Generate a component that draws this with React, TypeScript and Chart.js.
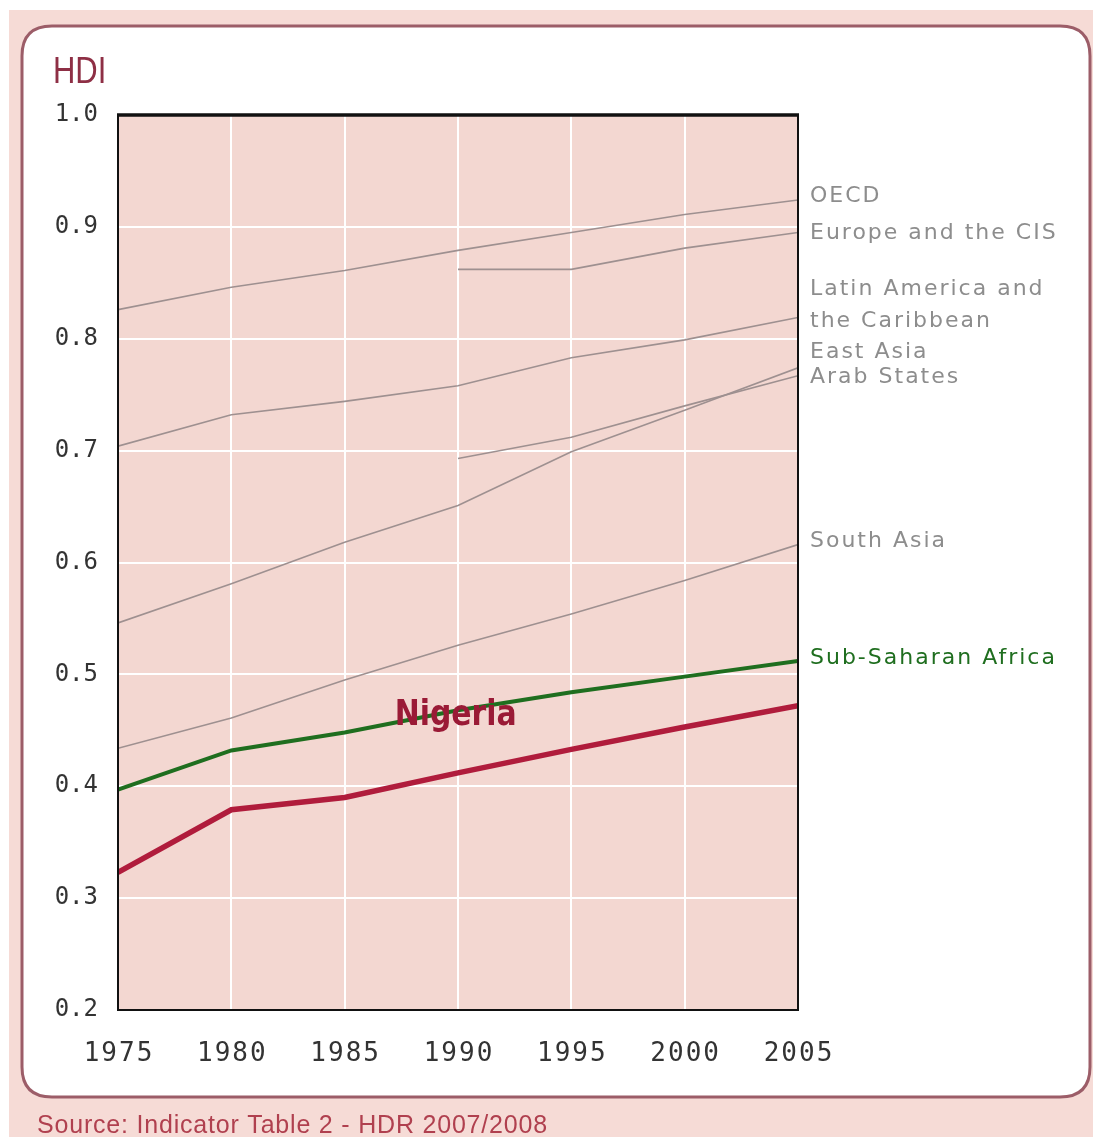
import React, { useEffect, useRef } from "react";
import { Chart, registerables } from "chart.js";

Chart.register(...registerables);

const years = [1975, 1980, 1985, 1990, 1995, 2000, 2005];
const oecd = [0.826, 0.846, 0.861, 0.879, 0.895, 0.911, 0.924];
const europeCIS = [null, null, null, 0.862, 0.862, 0.881, 0.895];
const latinAmerica = [0.704, 0.732, 0.744, 0.758, 0.783, 0.799, 0.819];
const eastAsia = [0.546, 0.581, 0.618, 0.651, 0.699, 0.736, 0.774];
const arabStates = [null, null, null, 0.693, 0.712, 0.74, 0.767];
const southAsia = [0.434, 0.461, 0.495, 0.526, 0.554, 0.584, 0.616];
const subSaharanAfrica = [0.397, 0.432, 0.448, 0.468, 0.484, 0.498, 0.512];
const nigeria = [0.323, 0.379, 0.39, 0.412, 0.433, 0.453, 0.472];

const xTicks = [1975, 1980, 1985, 1990, 1995, 2000, 2005];
const yTicks = [0.2, 0.3, 0.4, 0.5, 0.6, 0.7, 0.8, 0.9, 1.0];

const regionLabels = [
  "OECD",
  "Europe and the CIS",
  "Latin America and",
  "the Caribbean",
  "East Asia",
  "Arab States",
  "South Asia",
  "Sub-Saharan Africa",
];
const regionLabelValues = [0.927, 0.894, 0.844, 0.816, 0.788, 0.766, 0.619, 0.514];

const countryLabel = "Nigeria";
const countryLabelAt = { year: 1989.9, value: 0.455 };

const yAxisTitle = "HDI";
const sourceText = "Source: Indicator Table 2 - HDR 2007/2008";

const GRAY = "#9e9090";
const GREEN = "#1f6e1f";
const RED = "#b01c3c";
const PLOT_BG = "#f3d7d1";
const OUTER_BG = "#f6dbd6";
const BOX_BORDER = "#9c5d68";
const TICK_COLOR = "#333333";

const pts = (arr: (number | null)[]) =>
  years
    .map((yr, i) => ({ x: yr, y: arr[i] }))
    .filter((p) => p.y !== null) as { x: number; y: number }[];

const roundRect = (ctx: CanvasRenderingContext2D, x: number, y: number, w: number, h: number, r: number) => {
  ctx.beginPath();
  ctx.moveTo(x + r, y);
  ctx.lineTo(x + w - r, y);
  ctx.quadraticCurveTo(x + w, y, x + w, y + r);
  ctx.lineTo(x + w, y + h - r);
  ctx.quadraticCurveTo(x + w, y + h, x + w - r, y + h);
  ctx.lineTo(x + r, y + h);
  ctx.quadraticCurveTo(x, y + h, x, y + h - r);
  ctx.lineTo(x, y + r);
  ctx.quadraticCurveTo(x, y, x + r, y);
  ctx.closePath();
};

const decorPlugin = {
  id: "decor",
  beforeDraw(chart: any) {
    const ctx: CanvasRenderingContext2D = chart.ctx;
    const { left, right, top, bottom } = chart.chartArea;
    ctx.save();
    ctx.fillStyle = "#ffffff";
    ctx.fillRect(0, 0, chart.width, chart.height);
    ctx.fillStyle = OUTER_BG;
    ctx.fillRect(9, 10, chart.width - 9, chart.height - 10);
    roundRect(ctx, 22, 26, 1068, 1071, 30);
    ctx.fillStyle = "#ffffff";
    ctx.fill();
    ctx.lineWidth = 3;
    ctx.strokeStyle = BOX_BORDER;
    ctx.stroke();
    ctx.fillStyle = PLOT_BG;
    ctx.fillRect(left, top, right - left, bottom - top);
    // axis title
    ctx.save();
    ctx.fillStyle = "#8e2f45";
    ctx.font = "36px 'Liberation Sans'";
    ctx.textBaseline = "alphabetic";
    ctx.translate(53, 83);
    ctx.scale(0.86, 1);
    ctx.fillText(yAxisTitle, 0, 0);
    ctx.restore();
    // source
    ctx.fillStyle = "#b0404f";
    ctx.font = "25px 'Liberation Sans'";
    (ctx as any).letterSpacing = "0.8px";
    ctx.textBaseline = "alphabetic";
    ctx.fillText(sourceText, 37, 1133);
    ctx.restore();
  },
  afterDatasetsDraw(chart: any) {
    const ctx: CanvasRenderingContext2D = chart.ctx;
    const { left, right, top, bottom } = chart.chartArea;
    const xs = chart.scales.x;
    const ys = chart.scales.y;
    ctx.save();
    ctx.strokeStyle = "#111111";
    ctx.lineWidth = 2;
    ctx.beginPath();
    ctx.moveTo(left, top);
    ctx.lineTo(left, bottom);
    ctx.lineTo(right, bottom);
    ctx.lineTo(right, top);
    ctx.stroke();
    ctx.lineWidth = 3.5;
    ctx.beginPath();
    ctx.moveTo(left - 1, top);
    ctx.lineTo(right + 1, top);
    ctx.stroke();

    // country label (condensed bold)
    ctx.save();
    ctx.fillStyle = "#9a1a36";
    ctx.font = "bold 36px 'DejaVu Sans'";
    ctx.textAlign = "center";
    ctx.textBaseline = "alphabetic";
    ctx.translate(xs.getPixelForValue(countryLabelAt.year), ys.getPixelForValue(countryLabelAt.value));
    ctx.scale(0.83, 1);
    ctx.fillText(countryLabel, 0, 0);
    ctx.restore();

    // region labels
    ctx.textAlign = "left";
    ctx.textBaseline = "middle";
    ctx.font = "22px 'DejaVu Sans'";
    (ctx as any).letterSpacing = "2px";
    regionLabels.forEach((t, i) => {
      ctx.fillStyle = i === regionLabels.length - 1 ? GREEN : "#8d8d8d";
      ctx.fillText(t, right + 12, ys.getPixelForValue(regionLabelValues[i]));
    });

    // x tick labels (spaced monospace)
    ctx.fillStyle = TICK_COLOR;
    ctx.font = "26px 'DejaVu Sans Mono'";
    (ctx as any).letterSpacing = "2px";
    ctx.textAlign = "center";
    ctx.textBaseline = "middle";
    xs.ticks.forEach((tk: any) => {
      ctx.fillText(String(tk.value), xs.getPixelForValue(tk.value) + 1, bottom + 44);
    });
    ctx.restore();
  },
};

export default function App() {
  const ref = useRef<HTMLCanvasElement | null>(null);
  useEffect(() => {
    if (!ref.current) return;
    const gray = (label: string, arr: (number | null)[]) => ({
      label,
      data: pts(arr),
      borderColor: GRAY,
      borderWidth: 1.6,
      pointRadius: 0,
      tension: 0,
      order: 3,
    });
    const chart = new Chart(ref.current, {
      type: "line",
      data: {
        datasets: [
          gray("OECD", oecd),
          gray("Europe and the CIS", europeCIS),
          gray("Latin America and the Caribbean", latinAmerica),
          gray("East Asia", eastAsia),
          gray("Arab States", arabStates),
          gray("South Asia", southAsia),
          {
            label: "Sub-Saharan Africa",
            data: pts(subSaharanAfrica),
            borderColor: GREEN,
            borderWidth: 4,
            pointRadius: 0,
            order: 2,
          },
          {
            label: "Nigeria",
            data: pts(nigeria),
            borderColor: RED,
            borderWidth: 5.5,
            pointRadius: 0,
            order: 1,
          },
        ] as any,
      },
      options: {
        animation: false,
        responsive: false,
        maintainAspectRatio: false,
        layout: { padding: { top: 115, right: 295, bottom: 57, left: 0 } },
        plugins: {
          legend: { display: false },
          tooltip: { enabled: false },
          title: { display: false },
        },
        scales: {
          x: {
            type: "linear",
            min: 1975,
            max: 2005,
            afterBuildTicks: (s: any) => {
              s.ticks = xTicks.map((v) => ({ value: v }));
            },
            afterFit: (s: any) => {
              s.height = 70;
            },
            grid: { color: "#ffffff", lineWidth: 2, drawTicks: false },
            border: { display: false },
            ticks: { display: false },
          },
          y: {
            min: 0.2,
            max: 1.0,
            afterBuildTicks: (s: any) => {
              s.ticks = yTicks.map((v) => ({ value: v }));
            },
            afterFit: (s: any) => {
              s.width = 118;
            },
            grid: { color: "#ffffff", lineWidth: 2, drawTicks: false },
            border: { display: false },
            ticks: {
              color: TICK_COLOR,
              font: { family: "'DejaVu Sans Mono'", size: 24 },
              padding: 20,
              autoSkip: false,
              callback: (v: any) => Number(v).toFixed(1),
            },
          },
        },
      } as any,
      plugins: [decorPlugin],
    });
    return () => chart.destroy();
  }, []);
  return (
    <div style={{ position: "absolute", left: 0, top: 0, width: 1093, height: 1137 }}>
      <canvas ref={ref} width={1093} height={1137} style={{ display: "block" }} />
    </div>
  );
}
